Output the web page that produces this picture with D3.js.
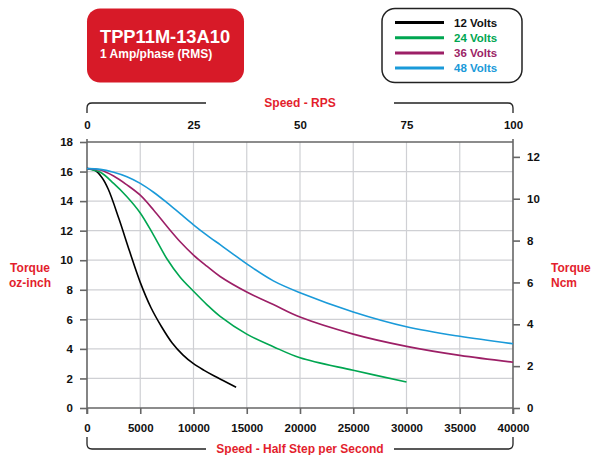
<!DOCTYPE html>
<html><head><meta charset="utf-8">
<script src="https://cdn.jsdelivr.net/npm/d3@7"></script>
<style>body{margin:0;background:#fff}svg{display:block;font-family:"Liberation Sans",Arial,sans-serif;font-weight:bold}</style>
</head><body><svg id="c" width="591" height="455"></svg>
<script>
const seriesNames = ["12 Volts","24 Volts","36 Volts","48 Volts"];
const seriesColors = ["#000000","#00a651","#9c1f66","#1a9ad9"];
const speed12 = [0,700,1400,2000,3000,4000,5000,6000,7000,8000,9000,10000,11000,12000,13000,14000];
const torque12 = [16.2,16.1,15.6,14.8,12.8,10.6,8.5,6.8,5.5,4.4,3.6,3.0,2.55,2.15,1.78,1.4];
const speed24 = [0,1250,2500,3750,5000,6250,7500,8750,10000,11250,12500,15000,17500,20000,25000,30000];
const torque24 = [16.2,15.95,15.2,14.3,13.2,11.7,10.1,8.85,7.9,7.0,6.2,5.0,4.15,3.4,2.55,1.76];
const speed36 = [0,1250,2500,3750,5000,6250,7500,8750,10000,11250,12500,15000,17500,20000,25000,30000,35000,40000];
const torque36 = [16.2,16.1,15.7,15.1,14.4,13.4,12.3,11.25,10.35,9.6,8.9,7.85,7.0,6.15,5.0,4.17,3.56,3.1];
const speed48 = [0,1250,2500,3750,5000,6250,7500,8750,10000,11250,12500,13750,15000,17500,20000,25000,30000,35000,40000];
const torque48 = [16.2,16.15,15.95,15.65,15.2,14.6,13.9,13.15,12.4,11.7,11.05,10.4,9.75,8.6,7.8,6.5,5.5,4.85,4.35];
const xTicks = [0,5000,10000,15000,20000,25000,30000,35000,40000];
const rpsTicks = [0,25,50,75,100];
const ozTicks = [0,2,4,6,8,10,12,14,16,18];
const ncmTicks = [0,2,4,6,8,10,12];
const series = [[speed12,torque12],[speed24,torque24],[speed36,torque36],[speed48,torque48]];

const svg = d3.select("#c");
const L=87,R=513,T=142,B=408;
const red="#e31e2d", axisCol="#666";
const x = d3.scaleLinear().domain([0,40000]).range([L,R]);
const xr = d3.scaleLinear().domain([0,100]).range([L,R]);
const y = d3.scaleLinear().domain([0,18]).range([B,T]);
const yn = d3.scaleLinear().domain([0,18*0.70615]).range([B,T]);

// grid
svg.append("g").selectAll("line").data(xTicks.slice(1,-1)).join("line")
  .attr("x1",d=>x(d)).attr("x2",d=>x(d)).attr("y1",T).attr("y2",B).attr("stroke","#cfd0d4").attr("stroke-width",1.2);
svg.append("g").selectAll("line").data(ozTicks.slice(1,-1)).join("line")
  .attr("x1",L).attr("x2",R).attr("y1",d=>y(d)).attr("y2",d=>y(d)).attr("stroke","#cfd0d4").attr("stroke-width",1.2);

// frame
const fr = svg.append("g").attr("stroke",axisCol).attr("stroke-width",1.6);
fr.append("line").attr("x1",L).attr("x2",R).attr("y1",T).attr("y2",T);
fr.append("line").attr("x1",L).attr("x2",R).attr("y1",B).attr("y2",B);
fr.append("line").attr("x1",L).attr("x2",L).attr("y1",T-3).attr("y2",B+6);
fr.append("line").attr("x1",R).attr("x2",R).attr("y1",T-3).attr("y2",B+6);

// axes
const axL = svg.append("g").attr("transform",`translate(${L},0)`).call(d3.axisLeft(y).tickValues(ozTicks).tickSize(7).tickPadding(7));
const axR = svg.append("g").attr("transform",`translate(${R},0)`).call(d3.axisRight(yn).tickValues(ncmTicks).tickSize(7).tickPadding(7));
const axB = svg.append("g").attr("transform",`translate(0,${B})`).call(d3.axisBottom(x).tickValues(xTicks).tickFormat(d3.format("d")).tickSize(6).tickPadding(10));
const axT = svg.append("g").attr("transform",`translate(0,${T})`).call(d3.axisTop(xr).tickValues(rpsTicks).tickSize(0).tickPadding(13));
[axL,axR,axB,axT].forEach(a=>{
  a.select(".domain").remove();
  a.selectAll(".tick line").attr("stroke",axisCol).attr("stroke-width",1.6);
  a.selectAll("text").attr("font-family","Liberation Sans, Arial, sans-serif").attr("font-weight","bold").attr("font-size",11.5).attr("fill","#111");
});

// curves
const line = d3.line().x(d=>x(d[0])).y(d=>y(d[1])).curve(d3.curveCatmullRom.alpha(0.5));
series.forEach((s,i)=>{
  const pts = s[0].map((v,j)=>[v,s[1][j]]);
  svg.append("path").attr("d",line(pts)).attr("fill","none").attr("stroke",seriesColors[i]).attr("stroke-width",1.6);
});

// brackets
const br = svg.append("g").attr("fill","none").attr("stroke","#222").attr("stroke-width",1.3);
br.append("path").attr("d",`M${L},113 V108 Q${L},103 ${L+5},103 H206`);
br.append("path").attr("d",`M394,103 H${R-5} Q${R},103 ${R},108 V113`);
br.append("path").attr("d",`M${L},437 V444 Q${L},449 ${L+5},449 H206`);
br.append("path").attr("d",`M394,449 H${R-5} Q${R},449 ${R},444 V437`);
svg.append("text").attr("x",300).attr("y",107).attr("text-anchor","middle").attr("fill",red).attr("font-size",12).text("Speed - RPS");
svg.append("text").attr("x",300).attr("y",453).attr("text-anchor","middle").attr("fill",red).attr("font-size",12).text("Speed - Half Step per Second");

// y titles
const yt = svg.append("g").attr("fill",red).attr("font-size",12);
yt.append("text").attr("x",30).attr("y",272).attr("text-anchor","middle").text("Torque");
yt.append("text").attr("x",30).attr("y",287).attr("text-anchor","middle").text("oz-inch");
yt.append("text").attr("x",551).attr("y",272).text("Torque");
yt.append("text").attr("x",551).attr("y",287).text("Ncm");

// title box
svg.append("rect").attr("x",87).attr("y",8.5).attr("width",157).attr("height",74).attr("rx",13).attr("fill","#d71a28");
svg.append("text").attr("x",100).attr("y",43).attr("fill","#fff").attr("font-size",18.3).text("TPP11M-13A10");
svg.append("text").attr("x",100).attr("y",58).attr("fill","#fff").attr("font-size",12).text("1 Amp/phase (RMS)");

// legend
svg.append("rect").attr("x",382).attr("y",8.5).attr("width",140).attr("height",74).attr("rx",13).attr("fill","#fff").attr("stroke","#222").attr("stroke-width",1.5);
const lg = svg.append("g").selectAll("g").data(seriesNames).join("g").attr("transform",(d,i)=>`translate(0,${22.5+i*15.2})`);
lg.append("line").attr("x1",395).attr("x2",444).attr("stroke",(d,i)=>seriesColors[i]).attr("stroke-width",3);
lg.append("text").attr("x",454).attr("y",4).attr("font-size",11.5).attr("fill",(d,i)=>i===0?"#111":seriesColors[i]).text(d=>d);
</script></body></html>
